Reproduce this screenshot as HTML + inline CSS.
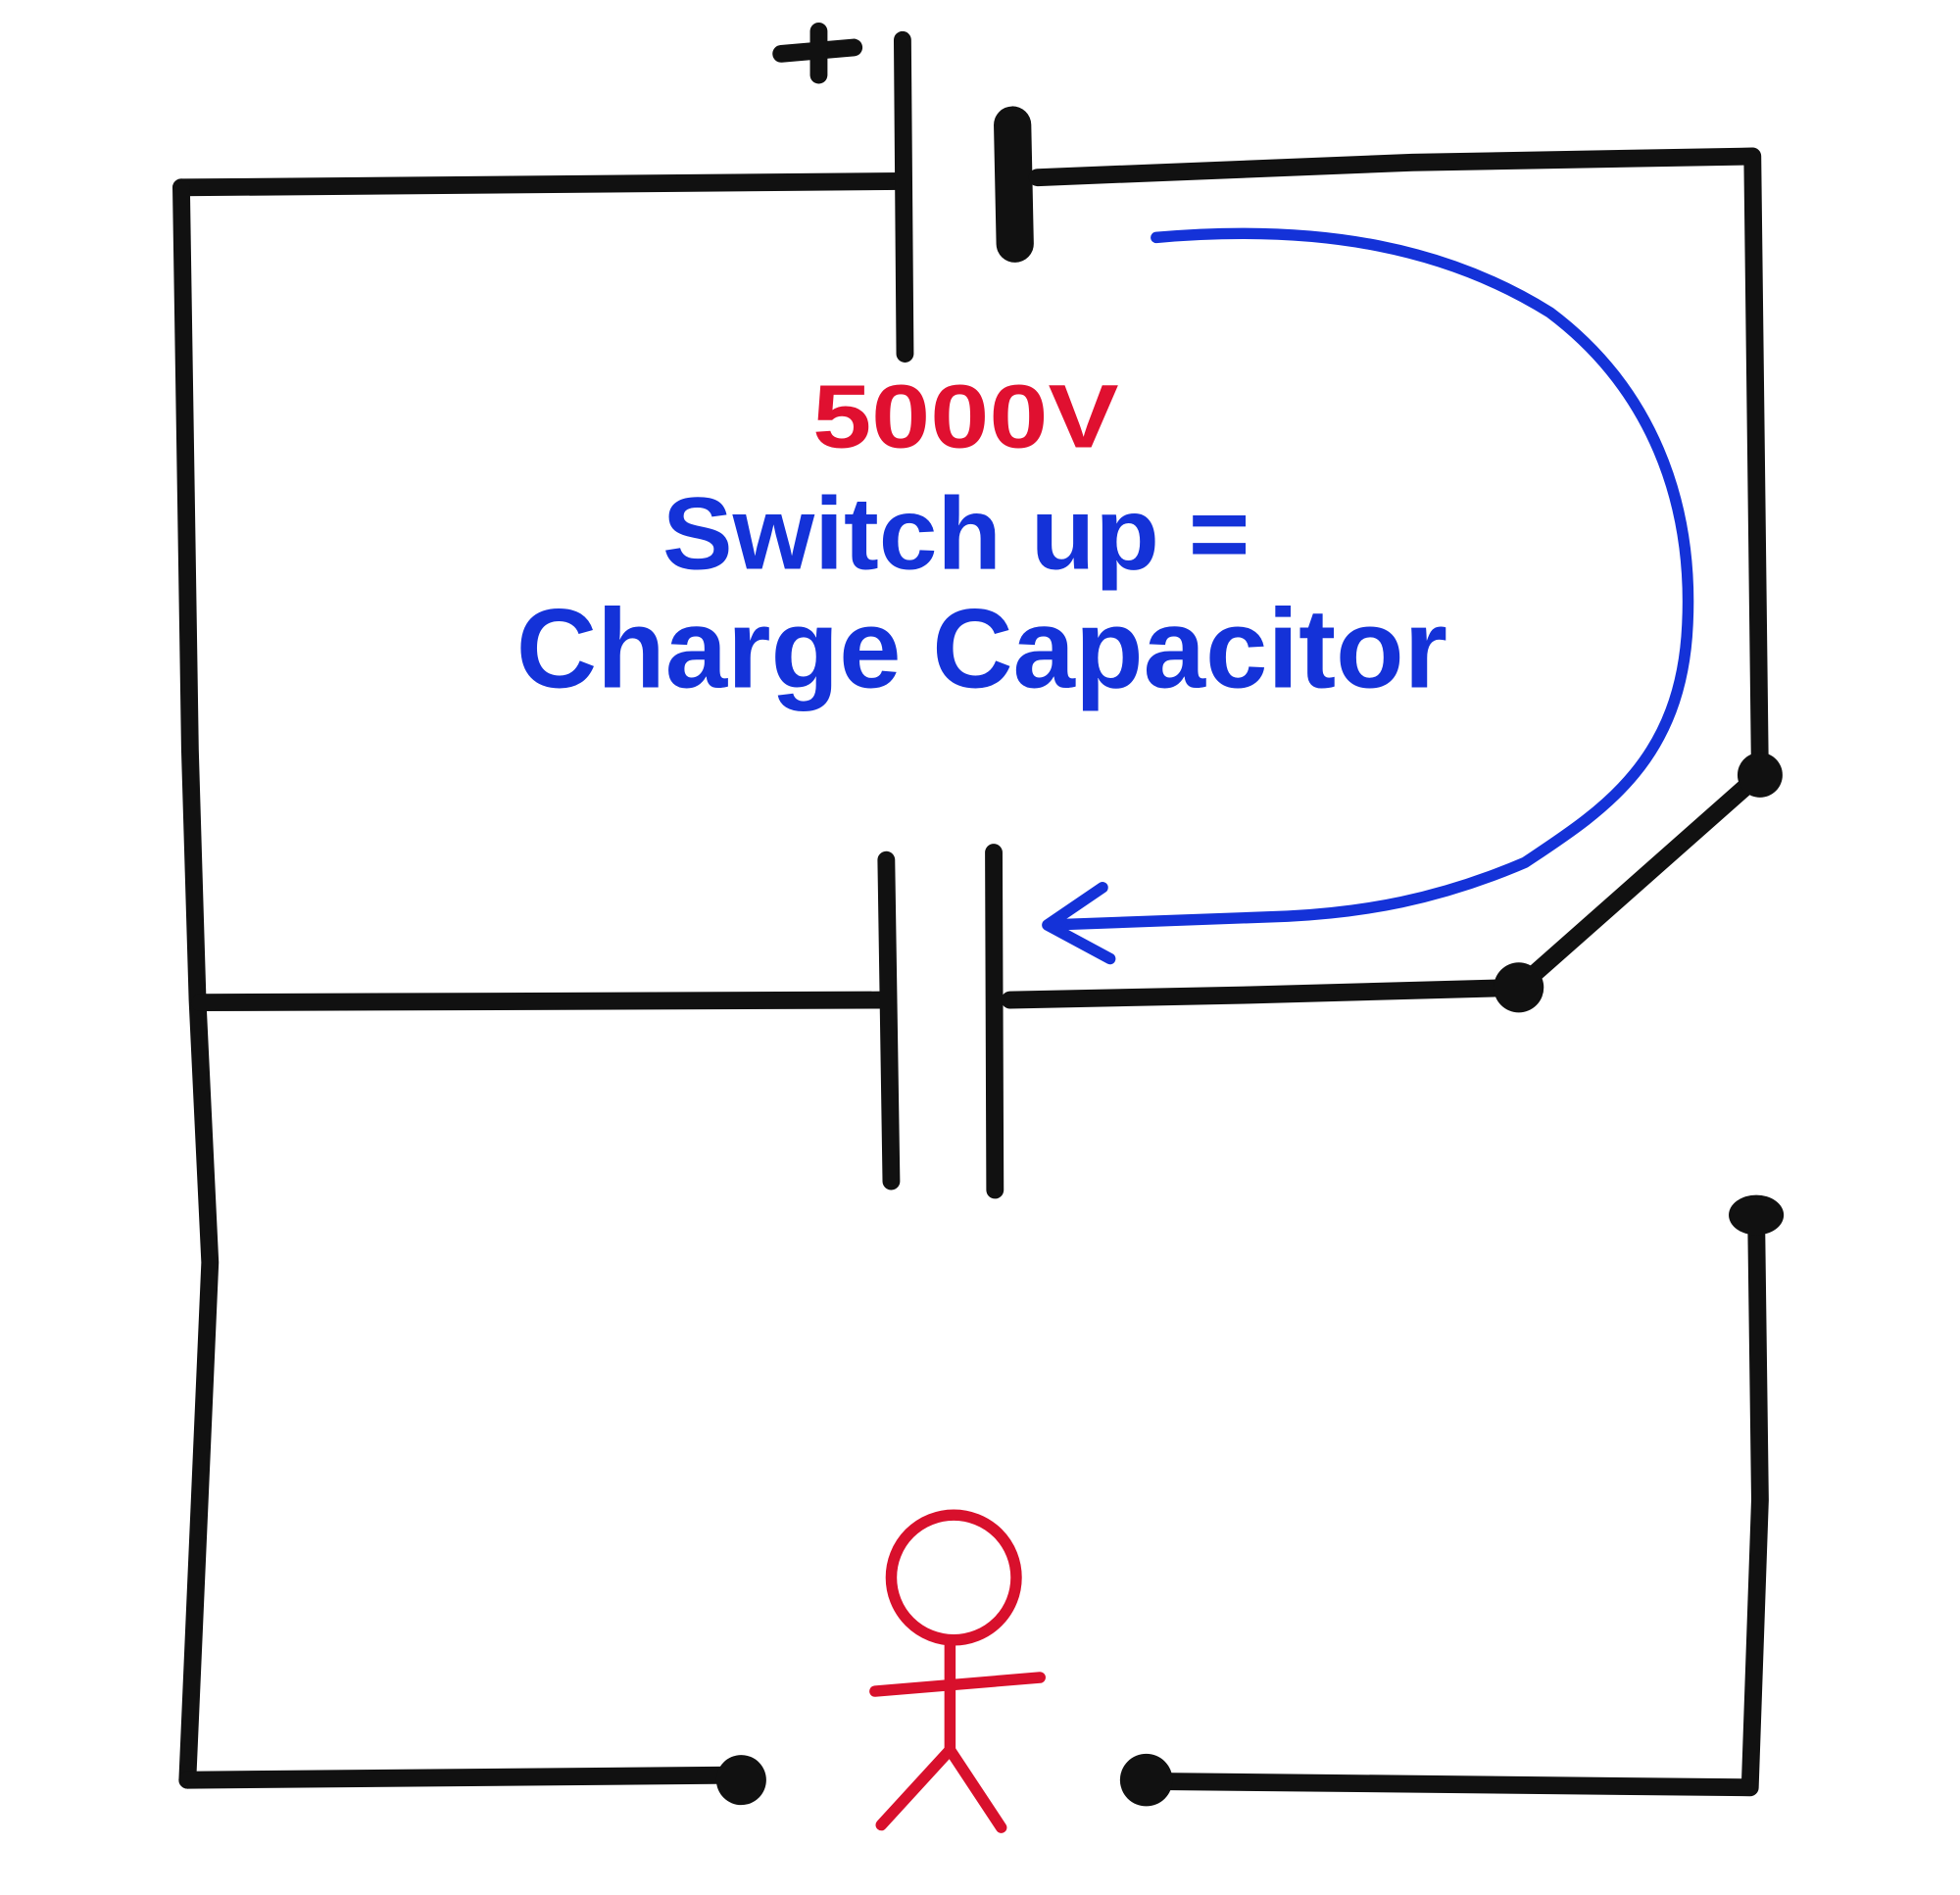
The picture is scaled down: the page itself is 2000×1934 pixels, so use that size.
<!DOCTYPE html>
<html><head><meta charset="utf-8"><style>
html,body{margin:0;padding:0;background:#fff;}
svg{display:block;}
</style></head><body>
<svg width="2000" height="1934" viewBox="0 0 1568 1516" preserveAspectRatio="none" xmlns="http://www.w3.org/2000/svg">
<rect width="1568" height="1516" fill="#fff"/>
<g stroke="#111" stroke-width="14" stroke-linecap="round" stroke-linejoin="round" fill="none">
<!-- top left wire -->
<path d="M145 150 L720 145"/>
<!-- left vertical -->
<path d="M145 150 L152 600 L158 800 L168 1010 L150 1424"/>
<!-- battery -->
<path d="M722 32 L724 283"/>
<path d="M810 100 L812 195" stroke-width="30"/>
<!-- plus -->
<path d="M625 43 L683 38"/>
<path d="M655 25 L655 60"/>
<!-- top right wire -->
<path d="M830 142 L1130 130 L1402 125 L1408 620"/>
<!-- switch -->
<path d="M1405 622 L1215 790"/>
<!-- middle wire -->
<path d="M160 802 L705 800"/>
<path d="M709 688 L713 945"/>
<path d="M795 682 L796 952"/>
<path d="M808 800 L1000 796 L1215 790"/>
<!-- right lower -->
<path d="M1405 972 L1408 1200 L1400 1430 L920 1425"/>
<!-- bottom left -->
<path d="M150 1424 L595 1420"/>
</g>
<g fill="#111">
<circle cx="1408" cy="620" r="18"/>
<circle cx="1215" cy="790" r="20"/>
<ellipse cx="1405" cy="972" rx="22" ry="16"/>
<circle cx="593" cy="1424" r="20"/>
<circle cx="917" cy="1424" r="21"/>
</g>
<!-- stick figure -->
<g stroke="#d8102c" stroke-width="9" stroke-linecap="round" fill="none">
<circle cx="763" cy="1262" r="50"/>
<path d="M760 1312 L760 1402"/>
<path d="M700 1353 L832 1342"/>
<path d="M760 1400 L705 1460"/>
<path d="M760 1400 L801 1462"/>
</g>
<!-- blue arrow -->
<g stroke="#1432d8" stroke-width="9" stroke-linecap="round" stroke-linejoin="round" fill="none">
<path d="M925 190 C1060 178 1160 200 1240 250 C1320 310 1355 400 1350 500 C1345 610 1280 650 1220 690 C1150 720 1090 730 1030 733 L840 740"/>
<path d="M882 710 L838 740 L888 767"/>
</g>
<text x="650" y="358" fill="#e01030" font-family="Liberation Sans, sans-serif" font-weight="bold" font-size="72" textLength="245" lengthAdjust="spacingAndGlyphs">5000V</text>
<text x="530" y="455" fill="#1432d8" font-family="Liberation Sans, sans-serif" font-weight="bold" font-size="82" textLength="470" lengthAdjust="spacingAndGlyphs">Switch up =</text>
<text x="413" y="550" fill="#1432d8" font-family="Liberation Sans, sans-serif" font-weight="bold" font-size="90" textLength="745" lengthAdjust="spacingAndGlyphs">Charge Capacitor</text>
</svg>
</body></html>
